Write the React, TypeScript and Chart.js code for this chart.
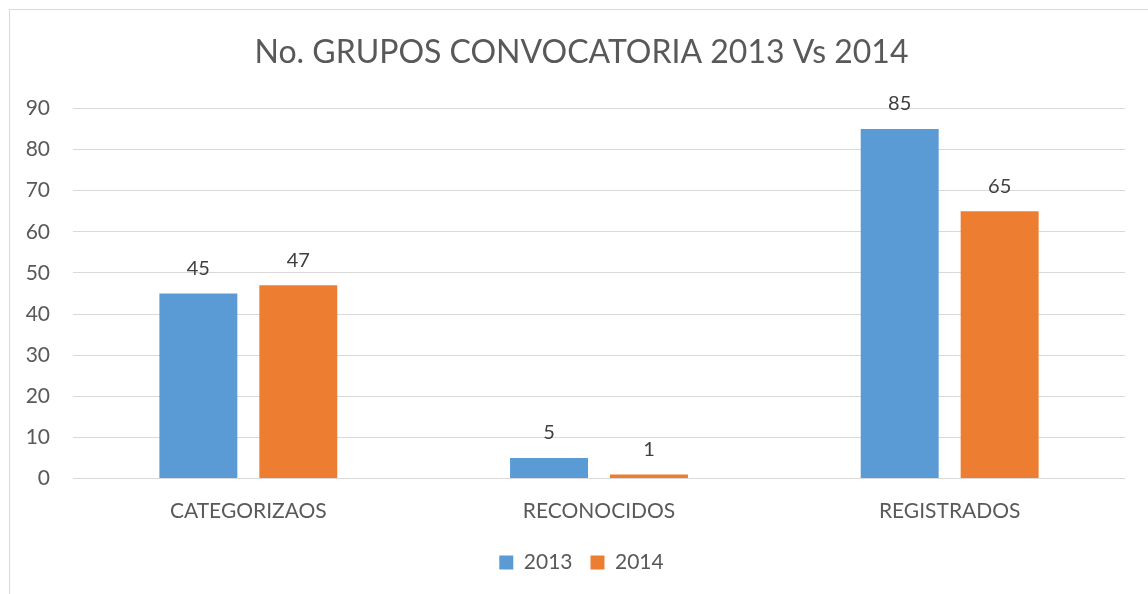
import React, { useEffect, useRef } from "react";
import { Chart, registerables } from "chart.js";

Chart.register(...registerables);

const categories = ["CATEGORIZAOS", "RECONOCIDOS", "REGISTRADOS"];
const seriesNames = ["2013", "2014"];
const values2013 = [45, 5, 85];
const values2014 = [47, 1, 65];
const yTicks = [0, 10, 20, 30, 40, 50, 60, 70, 80, 90];
const titleText = "No. GRUPOS CONVOCATORIA 2013 Vs 2014";

const FONT = "Lato, 'Open Sans', sans-serif";

const valueLabels = {
  id: "valueLabels",
  afterDatasetsDraw(chart: any) {
    const ctx = chart.ctx;
    ctx.save();
    ctx.font = `20px ${FONT}`;
    ctx.fillStyle = "#404040";
    ctx.textAlign = "center";
    ctx.textBaseline = "middle";
    chart.data.datasets.forEach((ds: any, i: number) => {
      const meta = chart.getDatasetMeta(i);
      if (meta.hidden) return;
      meta.data.forEach((bar: any, j: number) => {
        ctx.fillText(String(ds.data[j]), bar.x, bar.y - 25);
      });
    });
    ctx.restore();
  },
};

export default function App() {
  const ref = useRef<HTMLCanvasElement>(null);
  useEffect(() => {
    document.body.style.overflow = "hidden";
    const chart = new Chart(ref.current!, {
      type: "bar",
      data: {
        labels: categories,
        datasets: [
          {
            label: seriesNames[0],
            data: values2013,
            backgroundColor: "#5B9BD5",
            categoryPercentage: 0.57,
            barPercentage: 0.78,
          },
          {
            label: seriesNames[1],
            data: values2014,
            backgroundColor: "#ED7D31",
            categoryPercentage: 0.57,
            barPercentage: 0.78,
          },
        ],
      },
      options: {
        animation: false,
        responsive: false,
        maintainAspectRatio: false,
        layout: { padding: { left: 0, right: 1, top: 0, bottom: 0 } },
        plugins: {
          title: {
            display: true,
            text: titleText,
            color: "#595959",
            font: { family: FONT, size: 32, weight: "normal" },
            padding: { top: 23, bottom: 37 },
          },
          legend: {
            position: "bottom",
            labels: {
              color: "#595959",
              font: { family: FONT, size: 21 },
              boxWidth: 14,
              boxHeight: 14,
              padding: 18,
            },
          },
          tooltip: { enabled: false },
        },
        scales: {
          x: {
            grid: { display: false, drawTicks: false },
            border: { display: false },
            ticks: { color: "#595959", font: { family: FONT, size: 21 }, padding: 20 },
            afterFit: (s: any) => {
              s.height = 55.5;
            },
          },
          y: {
            min: 0,
            max: 90,
            afterBuildTicks: (s: any) => {
              s.ticks = yTicks.map((v) => ({ value: v }));
            },
            grid: { color: "#d9d9d9", lineWidth: 1, drawTicks: false },
            border: { display: false },
            ticks: { color: "#595959", font: { family: FONT, size: 21 }, padding: 23 },
            afterFit: (s: any) => {
              s.width = 63;
            },
          },
          y2: {
            position: "right",
            display: true,
            grid: { display: false, drawTicks: false },
            border: { display: false },
            ticks: { display: false },
            afterFit: (s: any) => {
              s.width = 28;
            },
          },
        },
      },
      plugins: [valueLabels],
    });
    return () => chart.destroy();
  }, []);
  return (
    <div
      style={{
        position: "absolute",
        left: 9,
        top: 9,
        width: 1160,
        height: 600,
        border: "1px solid #d9d9d9",
        background: "#fff",
        overflow: "hidden",
      }}
    >
      <canvas ref={ref} width={1144} height={573} style={{ display: "block" }} />
    </div>
  );
}
